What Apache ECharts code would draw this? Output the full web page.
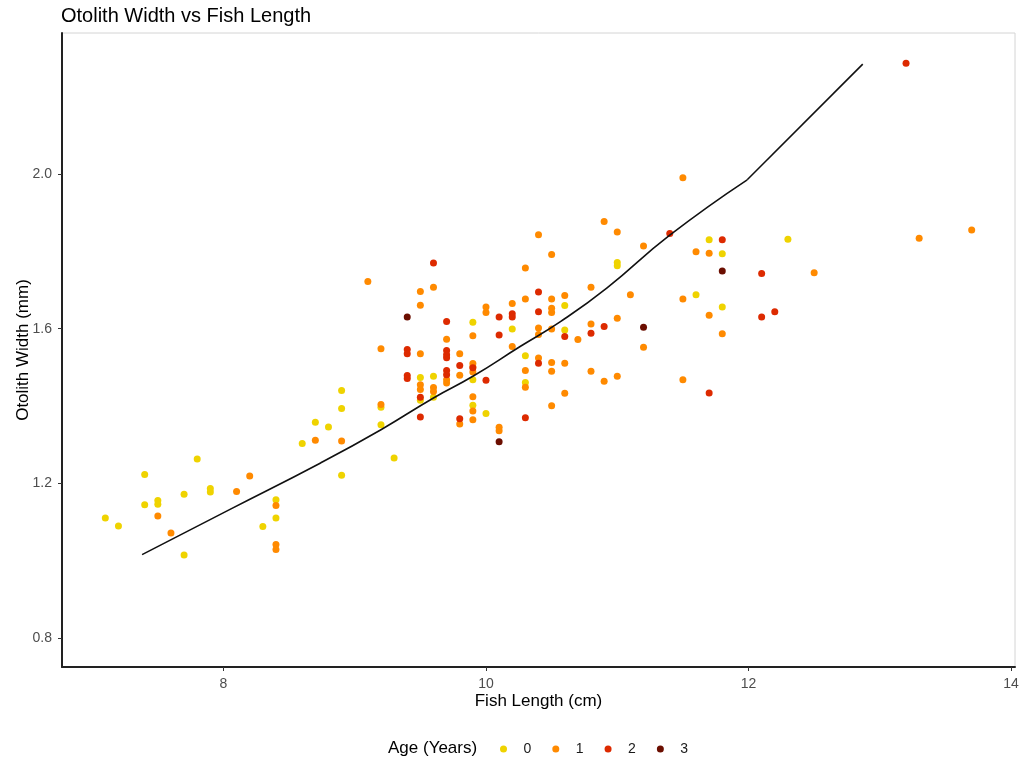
<!DOCTYPE html>
<html>
<head>
<meta charset="utf-8">
<script src="https://cdn.jsdelivr.net/npm/echarts@6/dist/echarts.min.js"></script>
<style>
html,body{margin:0;padding:0;background:#fff;}
#chart{width:1024px;height:763px;}
</style>
</head>
<body>
<div id="chart"></div>
<script>
// ---- data ----
const ageLabels = ['0', '1', '2', '3'];
const age0 = [
  [7.1,1.111],[7.2,1.090],[7.4,1.223],[7.4,1.145],[7.5,1.156],[7.5,1.146],[7.7,1.172],[7.7,1.015],
  [7.8,1.263],[7.9,1.187],[7.9,1.178],[8.3,1.089],[8.4,1.158],[8.4,1.111],[8.6,1.303],[8.7,1.358],
  [8.8,1.346],[8.9,1.440],[8.9,1.394],[8.9,1.221],[9.2,1.397],[9.2,1.352],[9.3,1.266],[9.5,1.474],
  [9.5,1.415],[9.6,1.477],[9.6,1.423],[9.9,1.617],[9.9,1.468],[9.9,1.402],[10.0,1.381],[10.2,1.599],
  [10.3,1.530],[10.3,1.461],[10.6,1.660],[10.6,1.597],[11.0,1.771],[11.0,1.763],[11.6,1.688],
  [11.7,1.830],[11.8,1.794],[11.8,1.656],[12.3,1.831]
];
const age1 = [
  [7.5,1.116],[7.6,1.072],[8.1,1.179],[8.2,1.219],[8.4,1.143],[8.4,1.042],[8.4,1.029],[8.7,1.312],
  [8.9,1.310],[9.1,1.722],[9.2,1.548],[9.2,1.404],[9.5,1.696],[9.5,1.661],[9.5,1.535],[9.5,1.455],
  [9.5,1.443],[9.6,1.707],[9.6,1.448],[9.6,1.438],[9.7,1.573],[9.7,1.468],[9.7,1.460],[9.8,1.535],
  [9.8,1.480],[9.8,1.354],[9.9,1.582],[9.9,1.510],[9.9,1.501],[9.9,1.488],[9.9,1.424],[9.9,1.387],
  [9.9,1.365],[10.0,1.656],[10.0,1.642],[10.1,1.345],[10.1,1.336],[10.2,1.665],[10.2,1.554],
  [10.3,1.757],[10.3,1.677],[10.3,1.492],[10.3,1.449],[10.4,1.843],[10.4,1.602],[10.4,1.585],
  [10.4,1.524],[10.5,1.792],[10.5,1.677],[10.5,1.653],[10.5,1.642],[10.5,1.599],[10.5,1.513],
  [10.5,1.490],[10.5,1.401],[10.6,1.686],[10.6,1.511],[10.6,1.433],[10.7,1.572],[10.8,1.707],
  [10.8,1.612],[10.8,1.490],[10.9,1.877],[10.9,1.464],[11.0,1.850],[11.0,1.627],[11.0,1.477],
  [11.1,1.688],[11.2,1.814],[11.2,1.552],[11.5,1.990],[11.5,1.677],[11.5,1.468],[11.6,1.799],
  [11.7,1.795],[11.7,1.635],[11.8,1.587],[12.5,1.745],[13.3,1.834],[13.7,1.855]
];
const age2 = [
  [9.4,1.546],[9.4,1.535],[9.4,1.479],[9.4,1.471],[9.5,1.423],[9.5,1.372],[9.6,1.770],[9.7,1.619],
  [9.7,1.544],[9.7,1.533],[9.7,1.525],[9.7,1.492],[9.7,1.481],[9.8,1.505],[9.8,1.367],[9.9,1.499],
  [10.0,1.467],[10.1,1.630],[10.1,1.584],[10.2,1.639],[10.2,1.630],[10.3,1.370],[10.4,1.695],
  [10.4,1.644],[10.4,1.511],[10.6,1.580],[10.8,1.588],[10.9,1.606],[11.4,1.846],[11.7,1.434],
  [11.8,1.830],[12.1,1.743],[12.1,1.630],[12.2,1.644],[13.2,2.286]
];
const age3 = [
  [9.4,1.630],[10.1,1.308],[11.2,1.604],[11.8,1.749]
];
// fitted curve: smooth part up to the bend at ~12, then a straight piece
const fitX = [7.38, 8.05, 8.74, 9.2, 9.6, 9.9, 10.26, 10.57, 10.92, 11.4, 11.99, 12.87];
const fitY = [1.016, 1.133, 1.253, 1.339, 1.421, 1.477, 1.554, 1.619, 1.705, 1.842, 1.985, 2.284];
const fitBendIndex = 10;
const xTicks = [8, 10, 12, 14];
const yTicks = [0.8, 1.2, 1.6, 2.0];

// ---- styles ----
const colors = ['#EFD300', '#FF8A00', '#DD2A00', '#6B0E00'];
const font = '"Liberation Sans", Arial, sans-serif';

const chart = echarts.init(document.getElementById('chart'), null, {renderer: 'canvas'});
const groups = [age0, age1, age2, age3];

const scatterSeries = groups.map((g, i) => ({
  name: ageLabels[i],
  type: 'scatter',
  data: g,
  symbol: 'circle',
  symbolSize: 7,
  itemStyle: {color: colors[i], opacity: 1},
  z: 2
}));

const fitPts = fitX.map((x, i) => [x, fitY[i]]);
const lineBase = {
  type: 'line', showSymbol: false, symbol: 'none',
  lineStyle: {color: '#111', width: 1.6}, z: 3, legendHoverLink: false
};

const option = {
  animation: false,
  backgroundColor: '#ffffff',
  title: {
    text: 'Otolith Width vs Fish Length',
    left: 61, top: 6, padding: 0,
    textStyle: {fontFamily: font, fontSize: 20, fontWeight: 'normal', color: '#000'}
  },
  grid: {
    left: 62, right: 9, top: 33, bottom: 96,
    outerBoundsMode: 'none', containLabel: false,
    show: true, borderColor: '#d4d4d4', borderWidth: 1, backgroundColor: 'transparent'
  },
  legend: {
    data: ageLabels,
    left: 495, top: 737,
    icon: 'circle',
    itemWidth: 30, itemHeight: 7, itemGap: 21,
    textStyle: {fontFamily: font, fontSize: 14, color: '#1a1a1a'},
    selectedMode: false
  },
  graphic: [{
    type: 'text', left: 388, top: 740,
    style: {text: 'Age (Years)', font: '17px ' + font, fill: '#000'}
  }],
  xAxis: {
    type: 'value', min: 6.77, max: 14.03,
    name: 'Fish Length (cm)', nameLocation: 'middle', nameGap: 26, nameMoveOverlap: false,
    nameTextStyle: {fontFamily: font, fontSize: 17, color: '#000'},
    axisLine: {show: true, onZero: false, lineStyle: {color: '#222', width: 2}},
    axisTick: {show: true, length: 4, lineStyle: {color: '#333'}, customValues: xTicks},
    axisLabel: {customValues: xTicks, margin: 10, fontFamily: font, fontSize: 14, color: '#4d4d4d'},
    splitLine: {show: false}
  },
  yAxis: {
    type: 'value', min: 0.7255, max: 2.3645,
    name: 'Otolith Width (mm)', nameLocation: 'middle', nameGap: 30, nameRotate: 90, nameMoveOverlap: false,
    nameTextStyle: {fontFamily: font, fontSize: 17, color: '#000'},
    axisLine: {show: true, onZero: false, lineStyle: {color: '#222', width: 2}},
    axisTick: {show: true, length: 4, lineStyle: {color: '#333'}, customValues: yTicks},
    axisLabel: {customValues: yTicks, margin: 10, fontFamily: font, fontSize: 14, color: '#4d4d4d',
      formatter: v => v.toFixed(1)},
    splitLine: {show: false}
  },
  series: scatterSeries.concat([
    Object.assign({}, lineBase, {
      name: 'fit', data: fitPts.slice(0, fitBendIndex + 1), smooth: 0.5
    }),
    Object.assign({}, lineBase, {
      name: 'fit2', data: fitPts.slice(fitBendIndex), smooth: false
    })
  ])
};
chart.setOption(option);
</script>
</body>
</html>
